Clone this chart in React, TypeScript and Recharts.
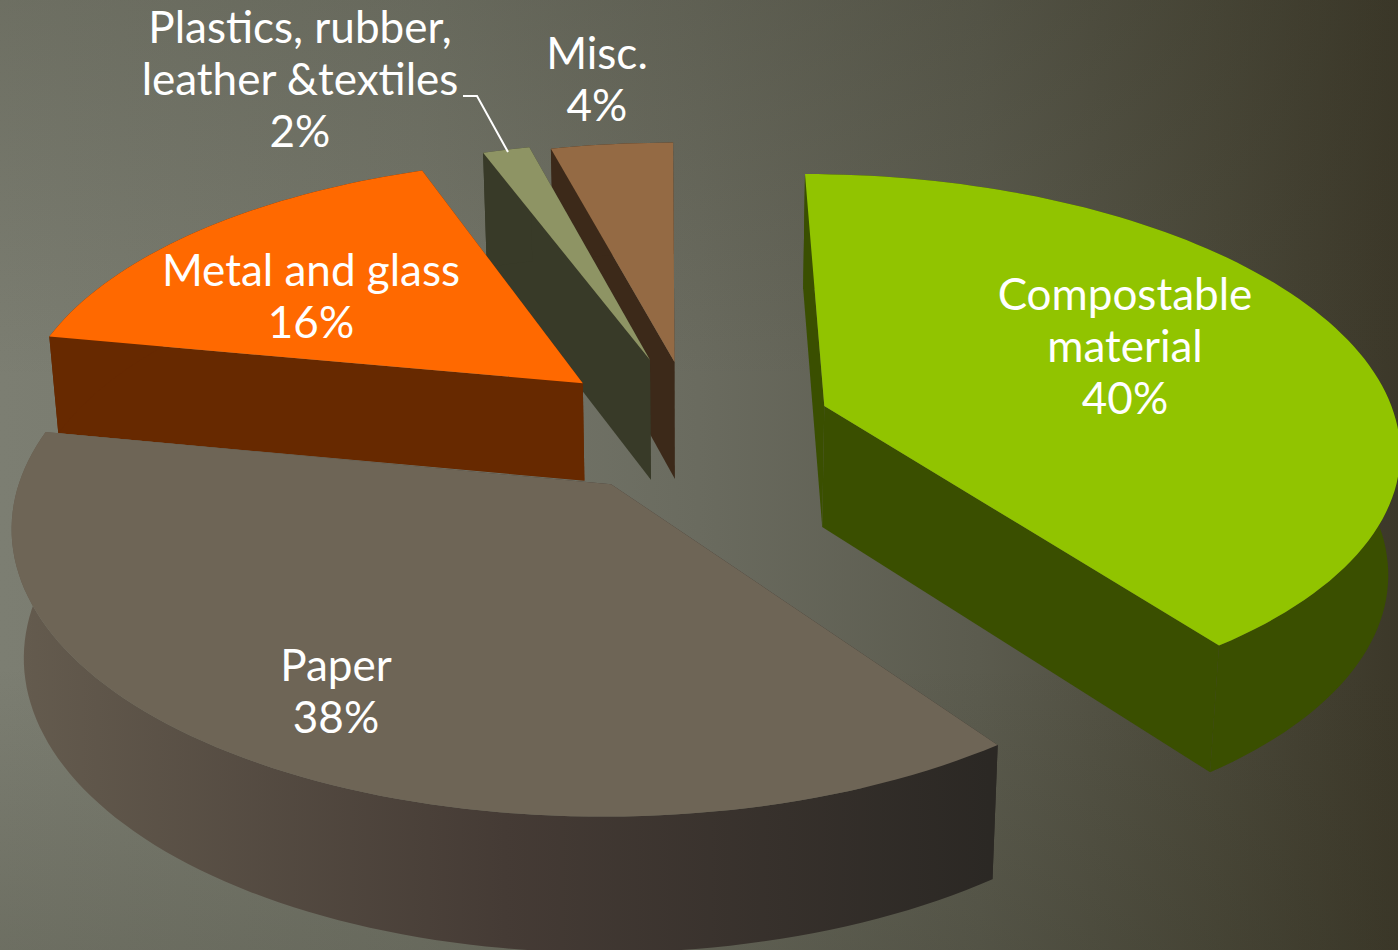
import React from "react";
import { PieChart, Pie } from "recharts";

// Drawn counter-clockwise from 12 o'clock, so the far slices get painted first
const categories = ["Misc.", "Plastics, rubber, leather &textiles", "Metal and glass", "Paper", "Compostable material"];
const shares = [4, 1.55, 16.45, 38, 40];

const labelLines: Record<string, string[]> = {
  "Misc.": ["Misc."],
  "Plastics, rubber, leather &textiles": ["Plastics, rubber,", "leather &textiles"],
  "Metal and glass": ["Metal and glass"],
  Paper: ["Paper"],
  "Compostable material": ["Compostable", "material"],
};

const W = 1398;
const H = 950;
const CX = 663; // x of the vanishing point
const CY = 450;
const RADIUS = 580;
const FOCAL = 1976; // distance from CY up to the vanishing point

// offset = sideways shift of the slice, near = perspective divisor at its tip
const sliceLook: Record<string, any> = {
  "Misc.": { offset: 12, near: 1.0466, tilt: 0.1376, height: 119, stretch: 1, top: "#946a44", side: "#3c2919" },
  "Plastics, rubber, leather &textiles": { offset: -13.6, near: 1.0477, tilt: 0.1376, height: 122, stretch: 1, top: "#8e9464", side: "#383a28" },
  "Metal and glass": { offset: -83, near: 1.035, tilt: 0.138, height: 99, stretch: 0.997, top: "#ff6900", side: "#672900" },
  Paper: { offset: -51, near: 0.983, tilt: 0.1395, height: 127, stretch: 1.004, top: "#6e6556", side: "url(#paperSide)" },
  "Compostable material": { offset: 165, near: 1.0228, tilt: 0.1395, height: 122, stretch: 1, top: "#91c400", side: "#3a4f00" },
};

const labelSpots: Record<string, { x: number; y: number }> = {
  "Misc.": { x: 597, y: 69 },
  "Plastics, rubber, leather &textiles": { x: 300, y: 43 },
  "Metal and glass": { x: 311, y: 286 },
  Paper: { x: 336, y: 681 },
  "Compostable material": { x: 1125, y: 310 },
};

const chartData = categories.map((name, i) => ({ name, value: shares[i] }));

function toScreen(look: any, u: number, v: number, radius: number) {
  const z = look.near + look.tilt * v;
  return { x: CX + (look.offset + radius * look.stretch * u) / z, y: CY - FOCAL + FOCAL / z, z };
}

function lower(look: any, p: { x: number; y: number; z: number }) {
  const shrink = 1 - 0.00014 * look.height;
  return { x: 700 + (p.x - 700) * shrink, y: p.y + look.height / Math.pow(p.z, 0.4) };
}

function toPath(points: { x: number; y: number }[]) {
  return points.map((p, i) => `${i ? "L" : "M"}${p.x.toFixed(1)},${p.y.toFixed(1)}`).join(" ") + " Z";
}

function SliceShape(props: any) {
  const look = sliceLook[props.name];
  const r = props.outerRadius;
  const rim: any[] = [];
  const steps = Math.max(4, Math.ceil(Math.abs(props.endAngle - props.startAngle) / 1.5));
  for (let i = 0; i <= steps; i++) {
    const a = ((props.startAngle + ((props.endAngle - props.startAngle) * i) / steps) * Math.PI) / 180;
    rim.push(toScreen(look, Math.cos(a), Math.sin(a), r));
  }
  const tip = toScreen(look, 0, 0, r);
  const wall = [...rim, ...rim.map((p) => lower(look, p)).reverse()];
  const first = rim[0];
  const last = rim[rim.length - 1];
  return (
    <g>
      <path d={toPath([tip, first, lower(look, first), lower(look, tip)])} fill={look.side} />
      <path d={toPath([tip, last, lower(look, last), lower(look, tip)])} fill={look.side} />
      <path d={toPath(wall)} fill={look.side} />
      <path d={toPath([tip, ...rim])} fill={look.top} />
    </g>
  );
}

function SliceLabel(props: any) {
  const spot = labelSpots[props.name];
  const lines = [...labelLines[props.name], `${Math.round(props.value)}%`];
  return (
    <g>
      <text textAnchor="middle" fill="#ffffff" fontFamily="Lato" fontSize={44}>
        {lines.map((line, i) => (
          <tspan key={i} x={spot.x} y={spot.y + i * 52}>
            {line}
          </tspan>
        ))}
      </text>
      {props.name.startsWith("Plastics") && (
        <polyline points="463,96 477,96 508,152" fill="none" stroke="#ffffff" strokeWidth={2} />
      )}
    </g>
  );
}

export default function App() {
  return (
    <div
      style={{
        position: "absolute",
        left: 0,
        top: 0,
        width: W,
        height: H,
        overflow: "hidden",
        background:
          "linear-gradient(180deg, rgba(50,50,35,0.2) 0%, rgba(50,50,35,0) 40%, rgba(50,50,35,0) 70%, rgba(50,50,35,0.2) 100%), " +
          "linear-gradient(90deg, #7c7e72 0%, #75776b 30%, #6a6b5f 50%, #5b5b4e 70%, #4a4839 87%, #3c3829 100%)",
      }}
    >
      <PieChart width={W} height={H} margin={{ top: 0, right: 0, bottom: 0, left: 0 }}>
        <defs>
          <linearGradient id="paperSide" gradientUnits="userSpaceOnUse" x1="20" y1="0" x2="990" y2="0">
            <stop offset="0%" stopColor="#645b4e" />
            <stop offset="50%" stopColor="#453b35" />
            <stop offset="100%" stopColor="#2b2824" />
          </linearGradient>
        </defs>
        <Pie
          data={chartData}
          dataKey="value"
          nameKey="name"
          cx={CX}
          cy={CY}
          innerRadius={0}
          outerRadius={RADIUS}
          startAngle={90}
          endAngle={450}
          stroke="none"
          shape={SliceShape}
          label={SliceLabel}
          labelLine={false}
          isAnimationActive={false}
        />
      </PieChart>
    </div>
  );
}
